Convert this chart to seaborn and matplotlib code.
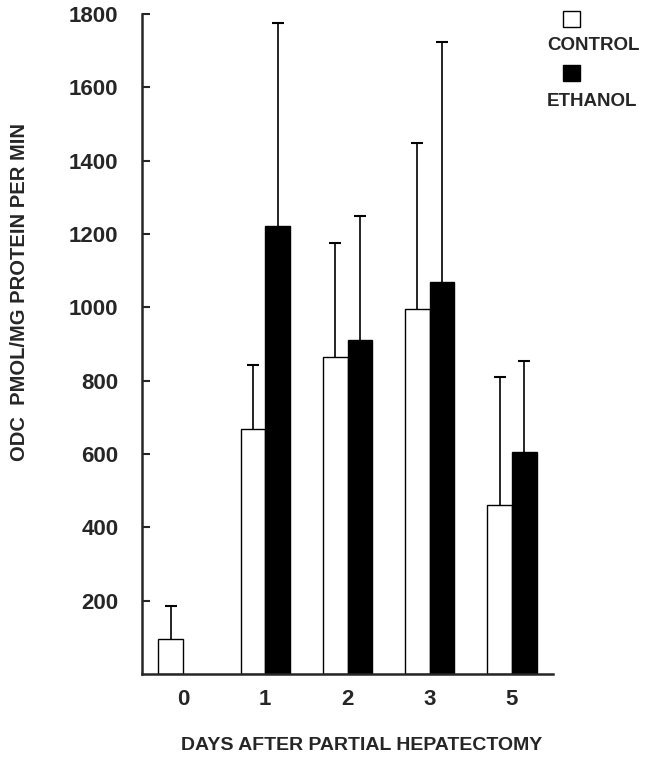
import numpy as np
import pandas as pd
import matplotlib
matplotlib.use("Agg")
import matplotlib.pyplot as plt
from matplotlib.patches import Rectangle
import seaborn as sns

# ── DATA ──────────────────────────────────────────────────────────────────────
DAYS        = ["0", "1", "2", "3", "5"]
CONTROL     = [96, 667, 865, 995, 460]
CONTROL_SD  = [90, 176, 310, 452, 350]
ETHANOL     = [np.nan, 1222, 911, 1070, 605]
ETHANOL_SD  = [np.nan, 554, 339, 653, 249]
GROUPS      = ["CONTROL", "ETHANOL"]
YTICKS      = [200, 400, 600, 800, 1000, 1200, 1400, 1600, 1800]

df = pd.DataFrame({
    "day":   DAYS * 2,
    "group": [GROUPS[0]] * len(DAYS) + [GROUPS[1]] * len(DAYS),
    "odc":   CONTROL + ETHANOL,
})
sd = {GROUPS[0]: CONTROL_SD, GROUPS[1]: ETHANOL_SD}

# ── STYLE ─────────────────────────────────────────────────────────────────────
sns.set_style("ticks")
plt.rcParams["font.family"] = ["Liberation Sans", "DejaVu Sans"]
plt.rcParams["font.weight"] = "bold"

fig = plt.figure(figsize=(6.51, 7.67), dpi=100)
ax = fig.add_axes([142/651, 1-674/767, (553-142)/651, (674-14)/767])

sns.barplot(data=df, x="day", y="odc", hue="group", order=DAYS,
            hue_order=GROUPS, palette=["white", "black"], width=0.6,
            edgecolor="black", linewidth=1.0, errorbar=None,
            legend=False, ax=ax)

# one-sided (upper) error bars, cap only at the top
for cont, g in zip(ax.containers, GROUPS):
    for bar in cont:
        h = bar.get_height()
        if not np.isfinite(h) or h == 0:
            continue
        xc = bar.get_x() + bar.get_width()/2
        i = int(round(xc))
        _, caps, _ = ax.errorbar(xc, h, yerr=[[0], [sd[g][i]]], fmt="none",
                                 ecolor="black", elinewidth=1.2,
                                 capsize=4, capthick=1.5)
        for c in caps:
            if np.allclose(c.get_ydata(), h):
                c.set_visible(False)

ax.set_xlim(-0.5, 4.5)
ax.set_ylim(0, 1800)
ax.set_yticks(YTICKS)
ax.set_yticklabels([str(t) for t in YTICKS], fontsize=16, fontweight="bold")
ax.tick_params(axis="y", direction="in", length=6, width=1.5, pad=17)
ax.tick_params(axis="x", length=0, pad=11, labelsize=16)
for lab in ax.get_xticklabels():
    lab.set_fontweight("bold")
ax.set_xlabel(""); ax.set_ylabel("")
sns.despine(ax=ax)
for s in ["left", "bottom"]:
    ax.spines[s].set_linewidth(1.8)

# axis titles
fig.text(20/651, 1-292/767, "ODC  PMOL/MG PROTEIN PER MIN", rotation=90,
         ha="center", va="center", fontsize=14.5, fontweight="bold")
fig.text(362/651, 1-745/767, "DAYS AFTER PARTIAL HEPATECTOMY",
         ha="center", va="center", fontsize=14, fontweight="bold")

# legend: swatch above label
for (y0, fc), name, ty in zip([(27, "white"), (81, "black")], GROUPS, [46, 101]):
    fig.add_artist(Rectangle((563/651, 1-y0/767), 17/651, 16/767,
                             transform=fig.transFigure, facecolor=fc,
                             edgecolor="black", linewidth=1.0))
    fig.text(547/651, 1-ty/767, name, ha="left", va="center",
             fontsize=13.5, fontweight="bold")

fig.savefig("out.png", dpi=100)
